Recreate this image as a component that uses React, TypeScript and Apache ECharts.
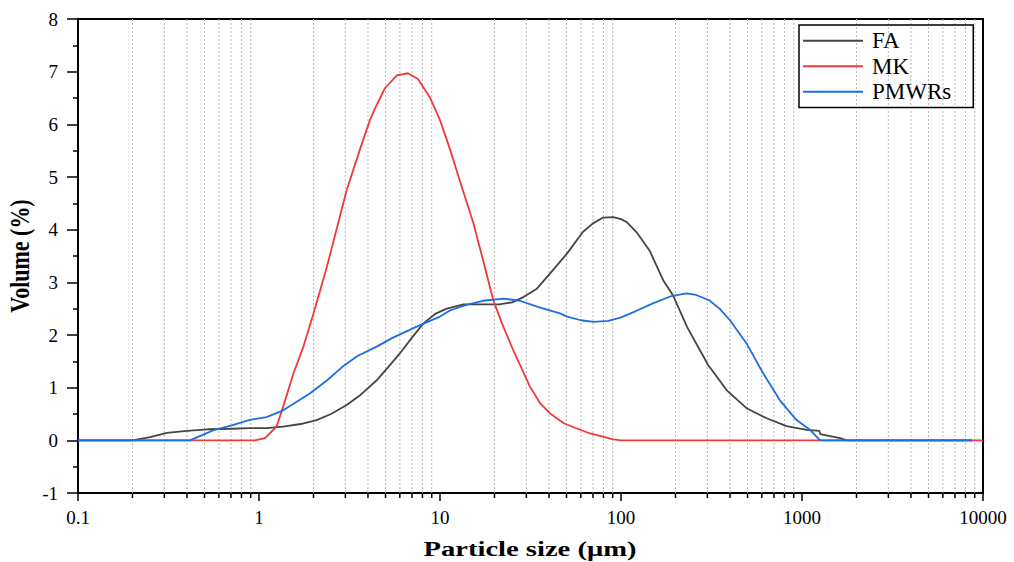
import React, { useEffect, useRef } from "react";
import * as echarts from "echarts";

// ---- data ----
const seriesNames = ["FA", "MK", "PMWRs"];
const seriesColors = ["#454545", "#f03a3a", "#1c6fe0"];

const faSize = [0.1, 0.2, 0.25, 0.31, 0.4, 0.52, 0.7, 0.89, 1.1, 1.36, 1.7, 2.08, 2.5, 3.05, 3.6, 4.47, 5.2, 6.0, 7.0, 8.1, 9.4, 10.9, 13.5, 17, 21.3, 25, 28.9, 34.3, 40.6, 46, 50.4, 61.7, 70, 79.6, 90.6, 100, 108, 122, 144, 171, 194, 232, 303, 384, 494, 638, 822, 1062, 1247, 1260, 1622, 1775, 8700];
const faVol = [0, 0, 0.06, 0.14, 0.18, 0.21, 0.22, 0.23, 0.23, 0.26, 0.31, 0.385, 0.5, 0.67, 0.85, 1.14, 1.4, 1.65, 1.95, 2.22, 2.4, 2.5, 2.58, 2.58, 2.58, 2.62, 2.72, 2.88, 3.17, 3.39, 3.55, 3.96, 4.12, 4.23, 4.24, 4.2, 4.14, 3.95, 3.6, 3.04, 2.75, 2.15, 1.43, 0.95, 0.61, 0.42, 0.27, 0.2, 0.18, 0.12, 0.04, 0, 0];

const mkSize = [0.1, 0.95, 1.08, 1.25, 1.36, 1.55, 1.76, 2.0, 2.37, 3.05, 3.6, 4.1, 4.37, 4.97, 5.78, 6.65, 7.55, 8.8, 10, 11.4, 13, 15.3, 17.3, 19.7, 22, 25.4, 31.4, 35.8, 40.6, 48.5, 67.5, 90.6, 100, 10000];
const mkVol = [0, 0, 0.04, 0.26, 0.64, 1.27, 1.78, 2.41, 3.29, 4.75, 5.51, 6.08, 6.3, 6.69, 6.93, 6.97, 6.86, 6.51, 6.08, 5.51, 4.88, 4.12, 3.42, 2.66, 2.22, 1.71, 1.02, 0.7, 0.51, 0.32, 0.13, 0.02, 0, 0];

const pmSize = [0.1, 0.416, 0.557, 0.7, 0.89, 1.1, 1.36, 1.91, 2.38, 2.9, 3.5, 4.47, 5.5, 7.43, 10, 11.4, 14, 17.3, 22.4, 27.7, 35, 46, 50.4, 60, 70.6, 85, 99.3, 120, 150, 190, 230, 260, 307, 350, 400, 494, 611, 755, 933, 1107, 1259, 8700];
const pmVol = [0, 0, 0.19, 0.28, 0.39, 0.44, 0.57, 0.89, 1.14, 1.4, 1.6, 1.78, 1.95, 2.16, 2.35, 2.47, 2.57, 2.65, 2.69, 2.65, 2.53, 2.41, 2.35, 2.28, 2.25, 2.27, 2.33, 2.45, 2.6, 2.74, 2.79, 2.76, 2.66, 2.5, 2.28, 1.84, 1.27, 0.76, 0.385, 0.2, 0, 0];

const xDecades = [0.1, 1, 10, 100, 1000, 10000];
const minorMultipliers = [2, 3, 4, 5, 6, 7, 8, 9];
const yMin = -1;
const yMax = 8;
const yStep = 1;

const xTitle = "Particle size (μm)";
const yTitle = "Volume (%)";

const FONT = "Liberation Serif";

const pairs = (xs: number[], ys: number[]) => xs.map((x, i) => [x, ys[i]]);

export default function App() {
  const ref = useRef<HTMLDivElement>(null);

  useEffect(() => {
    if (!ref.current) return;
    const chart = echarts.init(ref.current, null, { renderer: "svg" });

    const minorValues: number[][] = [];
    xDecades.slice(0, -1).forEach((d) => {
      minorMultipliers.forEach((m) => minorValues.push([+(d * m).toPrecision(6), 0]));
    });

    const lineSeries = [
      pairs(faSize, faVol),
      pairs(mkSize, mkVol),
      pairs(pmSize, pmVol),
    ].map((data, i) => ({
      name: seriesNames[i],
      type: "line",
      data,
      symbol: "none",
      smooth: false,
      z: 3,
      lineStyle: { color: seriesColors[i], width: 1.8 },
      itemStyle: { color: seriesColors[i] },
    }));

    chart.setOption({
      animation: false,
      backgroundColor: "#ffffff",
      grid: {
        left: 78,
        right: 31,
        top: 19,
        bottom: 69,
        show: true,
        borderColor: "#000",
        borderWidth: 2,
        backgroundColor: "transparent",
      },
      legend: {
        data: seriesNames.map((n) => ({ name: n, icon: "rect" })),
        orient: "vertical",
        left: 799,
        top: 25,
        padding: [3, 22, 3, 4],
        itemGap: 0,
        itemWidth: 60,
        itemHeight: 2,
        borderColor: "#000",
        borderWidth: 1.5,
        textStyle: {
          fontFamily: FONT,
          fontSize: 23,
          lineHeight: 25.5,
          color: "#000",
          padding: [0, 0, 0, 4],
        },
      },
      xAxis: {
        type: "log",
        logBase: 10,
        min: xDecades[0],
        max: xDecades[xDecades.length - 1],
        splitNumber: xDecades.length - 1,
        axisLine: { onZero: false, lineStyle: { color: "#000", width: 2 } },
        axisTick: { show: true, length: 8, lineStyle: { color: "#000", width: 1.5 } },
        splitLine: { show: false },
        axisLabel: {
          color: "#000",
          fontFamily: FONT,
          fontSize: 19,
          margin: 15,
          formatter: (v: number) => String(+Number(v).toPrecision(6)),
        },
      },
      yAxis: {
        type: "value",
        min: yMin,
        max: yMax,
        interval: yStep,
        axisLine: { show: true, lineStyle: { color: "#000", width: 2 } },
        axisTick: { show: true, length: 11, lineStyle: { color: "#000", width: 1.5 } },
        minorTick: { show: true, splitNumber: 2, length: 5, lineStyle: { color: "#000", width: 1.5 } },
        splitLine: { show: false },
        axisLabel: {
          color: "#000",
          fontFamily: FONT,
          fontSize: 19,
          margin: 20,
        },
      },
      graphic: [
        {
          type: "text",
          x: 530,
          y: 549,
          scaleX: 1.3,
          style: {
            text: xTitle,
            x: 0,
            y: 0,
            align: "center",
            verticalAlign: "middle",
            font: `bold 22px ${FONT}`,
            fill: "#000",
          },
        },
        {
          type: "text",
          x: 20,
          y: 256,
          rotation: Math.PI / 2,
          scaleY: 1.2,
          style: {
            text: yTitle,
            x: 0,
            y: 0,
            align: "center",
            verticalAlign: "middle",
            font: `bold 22px ${FONT}`,
            fill: "#000",
          },
        },
      ],
      series: [
        {
          name: "minor-grid",
          type: "custom",
          silent: true,
          clip: false,
          z: 1,
          data: minorValues,
          encode: { x: 0, y: 1 },
          renderItem: (params: any, api: any) => {
            const v = api.value(0);
            const top = api.coord([v, yMax]);
            const bot = api.coord([v, yMin]);
            return {
              type: "group",
              children: [
                {
                  type: "line",
                  shape: { x1: top[0], y1: top[1], x2: bot[0], y2: bot[1] },
                  style: { stroke: "#b8b8b8", lineWidth: 1, lineDash: [2, 2] },
                },
                {
                  type: "line",
                  shape: { x1: bot[0], y1: bot[1], x2: bot[0], y2: bot[1] + 5 },
                  style: { stroke: "#000", lineWidth: 1.5 },
                },
              ],
            };
          },
        },
        ...lineSeries,
      ],
    });

    return () => chart.dispose();
  }, []);

  return (
    <div
      ref={ref}
      style={{ position: "fixed", left: 0, top: 0, width: 1014, height: 562 }}
    />
  );
}
